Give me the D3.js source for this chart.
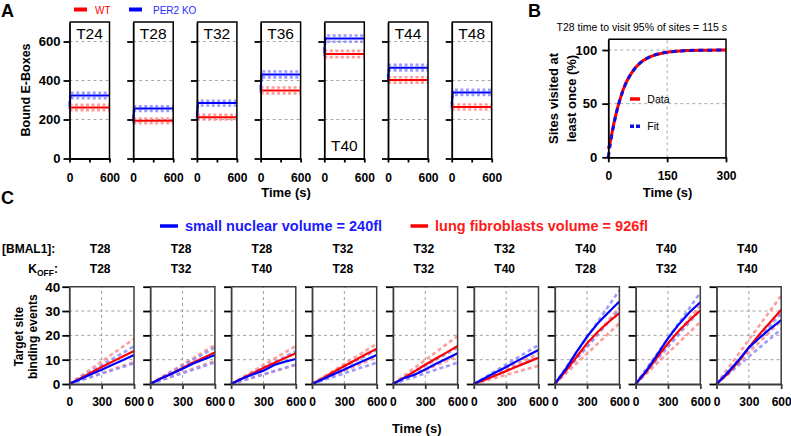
<!DOCTYPE html>
<html><head><meta charset="utf-8">
<script src="https://cdn.jsdelivr.net/npm/d3@7"></script>
<style>body{margin:0;background:#fff}svg{display:block}text{font-family:"Liberation Sans",Arial,sans-serif}</style>
</head><body><svg id="c" width="791" height="436"></svg>
<script>
// ---------- Panel A data ----------
const aLabels = ["T24","T28","T32","T36","T40","T44","T48"];
const aWT = [262,193,212,349,536,403,264];
const aKO = [323,256,284,431,615,466,339];
const aKOStart = [268,195,214,350,540,405,266];
const aSpread = [14,12,12,15,16,14,13];
const aYTicks = [0,200,400,600];
const aXTicks = [0,300,600];
const aTimes = [0,15,600];

// ---------- Panel B data ----------
const bTimes = [0,5,10,15,20,30,40,50,60,70,80,90,100,120,140,160,180,200,250,300];
const bData  = [8,14.5,24,33,41,54,65,73,79,84,87.5,90.4,92.5,95.5,97.3,98.4,99,99.5,99.8,100];
const bFit   = [0,12.2,22.9,32.3,40.6,54.2,64.7,72.8,79,83.8,87.5,90.4,92.6,95.6,97.4,98.4,99.1,99.5,99.85,99.96];
const bYTicks = [0,50,100];
const bXTicks = [0,150,300];

// ---------- Panel C data ----------
const cBmal = ["T28","T28","T28","T32","T32","T32","T40","T40","T40"];
const cKoff = ["T28","T32","T40","T28","T32","T40","T28","T32","T40"];
const cTimes = [0,100,200,300,400,500,600];
const cRed = [
  [0,2.3,4.6,7.0,9.2,11.4,13.6],
  [0,2.4,4.3,6.6,8.8,10.9,13.0],
  [0,2.3,4.4,6.6,8.6,10.7,12.6],
  [0,2.4,4.9,7.4,9.8,12.2,14.5],
  [0,2.5,5.2,7.9,10.5,13.0,15.6],
  [0,1.7,3.5,5.3,7.2,9.0,10.8],
  [0,5.2,11.0,16.7,21.5,25.5,29.1],
  [0,5.0,11.0,16.7,21.8,26.2,30.2],
  [0,4.0,9.0,15.0,20.5,25.5,30.5]
];
const cBlue = [
  [0,2.0,4.0,5.9,7.9,9.9,11.9],
  [0,2.3,4.2,6.3,8.4,10.2,11.9],
  [0,2.2,3.9,5.5,7.8,9.2,10.3],
  [0,2.0,4.0,6.0,8.0,10.0,11.9],
  [0,2.4,3.8,6.0,8.3,10.5,12.6],
  [0,2.4,4.7,7.0,9.4,11.7,14.0],
  [0,6.0,13.0,19.5,25.0,29.5,33.9],
  [0,5.5,12.0,18.8,24.5,29.5,33.6],
  [0,4.5,9.5,15.0,19.0,22.8,26.3]
];
const cBandTimes = [0,600];
const cRedHi  = [18.5,16,15.6,16.5,19.7,12.5,31.5,32.5,36.3];
const cRedLo  = [9,9.5,7.8,11,11.5,7.5,25,25.5,26];
const cBlueHi = [15.5,15,13.5,14,15,16,38.5,37.5,29];
const cBlueLo = [8.5,8.9,8,8.8,8.8,11,30.5,30.5,22.5];
const cYTicks = [0,10,20,30,40];
const cXTicks = [0,300,600];

// ---------- drawing ----------
const svg = d3.select("#c");
const FONT = '"Liberation Sans", Arial, sans-serif';
const RED = "#ff0000", BLUE = "#0000ff", LRED = "#ff8c8c", LBLUE = "#8c8cff";

function styleAxis(g, color, w, fs) {
  g.attr("font-family", FONT).attr("font-size", fs).attr("font-weight", "bold");
  g.select(".domain").attr("stroke", color).attr("stroke-width", w);
  g.selectAll(".tick line").attr("stroke", color).attr("stroke-width", w);
  g.selectAll(".tick text").attr("fill", "#000");
}
function txt(x, y, s, o = {}) {
  const t = svg.append("text").attr("x", x).attr("y", y).text(s)
    .attr("font-size", o.fs || 12).attr("font-weight", o.fw || "bold")
    .attr("fill", o.fill || "#000").attr("text-anchor", o.anchor || "start");
  if (o.rot) t.attr("transform", `rotate(-90,${x},${y})`);
  return t;
}

// ===== Panel A =====
txt(1, 17, "A", {fs: 18});
const yA = d3.scaleLinear().domain([0, 700]).range([158.5, 22]);
for (let i = 0; i < aLabels.length; i++) {
  const x0 = 69.5 + i * 63.7;
  const x = d3.scaleLinear().domain([0, 600]).range([x0, x0 + 40]);
  const g = svg.append("g");
  // grid
  [200, 400, 600].forEach(v => g.append("line")
    .attr("x1", x(0)).attr("x2", x(600)).attr("y1", yA(v)).attr("y2", yA(v))
    .attr("stroke", "#a8a8a8").attr("stroke-dasharray", "3,3").attr("stroke-width", 1));
  // bands and lines
  const line = d3.line().x(d => x(d[0])).y(d => yA(d[1]));
  const sp = aSpread[i];
  [[aWT[i], aWT[i], LRED], [aKOStart[i], aKO[i], LBLUE]].forEach(([s, m, c]) => {
    [sp, -sp].forEach(o => g.append("path")
      .attr("d", line(aTimes.map((t, k) => [t, (k === 0 ? s : m) + o])))
      .attr("fill", "none").attr("stroke", c).attr("stroke-width", 2.6)
      .attr("stroke-dasharray", "3,2.5").attr("opacity", 0.85));
  });
  g.append("path").attr("d", line(aTimes.map((t) => [t, aWT[i]])))
    .attr("fill", "none").attr("stroke", RED).attr("stroke-width", 2);
  g.append("path").attr("d", line(aTimes.map((t, k) => [t, k === 0 ? aKOStart[i] : aKO[i]])))
    .attr("fill", "none").attr("stroke", BLUE).attr("stroke-width", 2);
  // frame
  g.append("path").attr("d", `M${x(0)},${yA(700)}H${x(600)}V${yA(0)}`)
    .attr("fill", "none").attr("stroke", "#000").attr("stroke-width", 1.5);
  const ga = g.append("g").attr("transform", `translate(${x0},0)`)
    .call(d3.axisLeft(yA).tickValues(aYTicks).tickSize(6).tickSizeOuter(0).tickPadding(3)
      .tickFormat(i === 0 ? d3.format("d") : () => ""));
  styleAxis(ga, "#000", 1.8, 13);
  const gb = g.append("g").attr("transform", `translate(0,${yA(0)})`)
    .call(d3.axisBottom(x).tickValues(aXTicks).tickSize(4).tickSizeOuter(0).tickPadding(11)
      .tickFormat(d => d === 300 ? "" : d));
  styleAxis(gb, "#000", 1.8, 12);
  // label
  const ly = aLabels[i] === "T40" ? 151 : 39;
  txt(x(300), ly, aLabels[i], {fs: 15.5, fw: "normal", anchor: "middle"});
}
txt(26, 90, "Bound E-Boxes", {fs: 12.5, anchor: "middle", rot: true}).attr("dy", "0.35em");
txt(286, 197, "Time (s)", {fs: 13, anchor: "middle"});
// legend A
svg.append("line").attr("x1", 74).attr("x2", 87).attr("y1", 9.5).attr("y2", 9.5).attr("stroke", RED).attr("stroke-width", 4);
txt(95, 13.5, "WT", {fs: 10, fw: "normal", fill: RED});
svg.append("line").attr("x1", 129).attr("x2", 142).attr("y1", 9.5).attr("y2", 9.5).attr("stroke", BLUE).attr("stroke-width", 4);
txt(153, 13.5, "PER2 KO", {fs: 10, fw: "normal", fill: "#2a2aff"});

// ===== Panel B =====
txt(528, 17, "B", {fs: 18});
const xB = d3.scaleLinear().domain([0, 300]).range([608.3, 726]);
const yB = d3.scaleLinear().domain([0, 110]).range([157.3, 39.3]);
const gB = svg.append("g");
[50, 100].forEach(v => gB.append("line").attr("x1", xB(0)).attr("x2", xB(300)).attr("y1", yB(v)).attr("y2", yB(v))
  .attr("stroke", "#a8a8a8").attr("stroke-dasharray", "3,3"));
gB.append("line").attr("x1", xB(150)).attr("x2", xB(150)).attr("y1", yB(0)).attr("y2", yB(110))
  .attr("stroke", "#a8a8a8").attr("stroke-dasharray", "3,3");
const lineB = d3.line().x((d, k) => xB(bTimes[k])).y(d => yB(d)).curve(d3.curveMonotoneX);
gB.append("path").attr("d", lineB(bData)).attr("fill", "none").attr("stroke", RED).attr("stroke-width", 3);
gB.append("path").attr("d", lineB(bFit)).attr("fill", "none").attr("stroke", "#1010e0").attr("stroke-width", 3)
  .attr("stroke-dasharray", "5,4");
gB.append("path").attr("d", `M${xB(0)},${yB(110)}H${xB(300)}V${yB(0)}`)
  .attr("fill", "none").attr("stroke", "#000").attr("stroke-width", 1.5);
const gBa = gB.append("g").attr("transform", `translate(${xB(0)},0)`)
  .call(d3.axisLeft(yB).tickValues(bYTicks).tickSize(6).tickSizeOuter(0).tickPadding(5));
styleAxis(gBa, "#000", 1.8, 13);
const gBb = gB.append("g").attr("transform", `translate(0,${yB(0)})`)
  .call(d3.axisBottom(xB).tickValues(bXTicks).tickSize(5).tickSizeOuter(0).tickPadding(9));
styleAxis(gBb, "#000", 1.8, 12);
txt(641.8, 31, "T28 time to visit 95% of sites = 115 s", {fs: 10.5, fw: "normal", anchor: "middle"});
txt(667.5, 197, "Time (s)", {fs: 13, anchor: "middle"});
txt(553.3, 98.5, "Sites visited at", {fs: 13, anchor: "middle", rot: true}).attr("dy", "0.35em");
txt(571.5, 98.5, "least once (%)", {fs: 13, anchor: "middle", rot: true}).attr("dy", "0.35em");
svg.append("line").attr("x1", 630).attr("x2", 640).attr("y1", 99).attr("y2", 99).attr("stroke", RED).attr("stroke-width", 3.5);
txt(647.3, 103, "Data", {fs: 10.5, fw: "normal"});
svg.append("line").attr("x1", 630).attr("x2", 640).attr("y1", 126.3).attr("y2", 126.3).attr("stroke", "#1010e0").attr("stroke-width", 3.5)
  .attr("stroke-dasharray", "4,2");
txt(647.3, 130.3, "Fit", {fs: 10.5, fw: "normal"});

// ===== Panel C =====
txt(1, 204, "C", {fs: 18});
svg.append("line").attr("x1", 160).attr("x2", 178).attr("y1", 226).attr("y2", 226).attr("stroke", BLUE).attr("stroke-width", 3.5);
txt(185, 231, "small nuclear volume = 240fl", {fs: 14.5, fill: "#1a1aff"});
svg.append("line").attr("x1", 410.5).attr("x2", 428).attr("y1", 226).attr("y2", 226).attr("stroke", RED).attr("stroke-width", 3.5);
txt(435, 231, "lung fibroblasts volume = 926fl", {fs: 14.5, fill: "#ff1a1a"});
txt(2, 253, "[BMAL1]:", {fs: 12});
const kt = txt(58, 273, "", {fs: 12, anchor: "end"});
kt.append("tspan").text("K");
kt.append("tspan").text("OFF").attr("font-size", 8.5).attr("dy", 2.5);
kt.append("tspan").text(":").attr("dy", -2.5);

const yC = d3.scaleLinear().domain([0, 40]).range([384, 286.7]);
const FR = "#3c3c3c";
for (let i = 0; i < cBmal.length; i++) {
  const x0 = 69.3 + i * 80.9;
  const x = d3.scaleLinear().domain([0, 600]).range([x0, x0 + 64.7]);
  const g = svg.append("g");
  txt(x(300) - 1.5, 253, cBmal[i], {fs: 12, anchor: "middle"});
  txt(x(300) - 1.5, 273, cKoff[i], {fs: 12, anchor: "middle"});
  [10, 20, 30].forEach(v => g.append("line").attr("x1", x(0)).attr("x2", x(600)).attr("y1", yC(v)).attr("y2", yC(v))
    .attr("stroke", "#a0a0a0").attr("stroke-dasharray", "3,3"));
  g.append("line").attr("x1", x(300)).attr("x2", x(300)).attr("y1", yC(0)).attr("y2", yC(40))
    .attr("stroke", "#a0a0a0").attr("stroke-dasharray", "3,3");
  const lineC = d3.line().x(d => x(d[0])).y(d => yC(d[1]));
  const band = (hi, c) => g.append("path").attr("d", lineC(cBandTimes.map((t, k) => [t, k === 0 ? 0 : hi])))
    .attr("fill", "none").attr("stroke", c).attr("stroke-width", 2.6).attr("stroke-dasharray", "4,3").attr("opacity", 0.85);
  band(cRedHi[i], LRED); band(cRedLo[i], LRED);
  band(cBlueHi[i], LBLUE); band(cBlueLo[i], LBLUE);
  g.append("path").attr("d", lineC(cTimes.map((t, k) => [t, cRed[i][k]])))
    .attr("fill", "none").attr("stroke", RED).attr("stroke-width", 2.2);
  g.append("path").attr("d", lineC(cTimes.map((t, k) => [t, cBlue[i][k]])))
    .attr("fill", "none").attr("stroke", BLUE).attr("stroke-width", 2.2);
  g.append("path").attr("d", `M${x(0)},${yC(40)}H${x(600)}V${yC(0)}`)
    .attr("fill", "none").attr("stroke", FR).attr("stroke-width", 1.5);
  const ga = g.append("g").attr("transform", `translate(${x0},0)`)
    .call(d3.axisLeft(yC).tickValues(cYTicks).tickSize(7).tickSizeOuter(0).tickPadding(2)
      .tickFormat(i === 0 ? d3.format("d") : () => ""));
  styleAxis(ga, FR, 1.8, 13.5);
  ga.selectAll(".tick line").attr("stroke", "#000");
  const gb = g.append("g").attr("transform", `translate(0,${yC(0)})`)
    .call(d3.axisBottom(x).tickValues(cXTicks).tickSize(5).tickSizeOuter(0).tickPadding(8));
  styleAxis(gb, FR, 1.8, 12);
}
txt(18.5, 336.7, "Target site", {fs: 12, anchor: "middle", rot: true}).attr("dy", "0.35em");
txt(32.5, 336.7, "binding events", {fs: 12, anchor: "middle", rot: true}).attr("dy", "0.35em");
txt(416.7, 433, "Time (s)", {fs: 13, anchor: "middle"});
</script></body></html>
